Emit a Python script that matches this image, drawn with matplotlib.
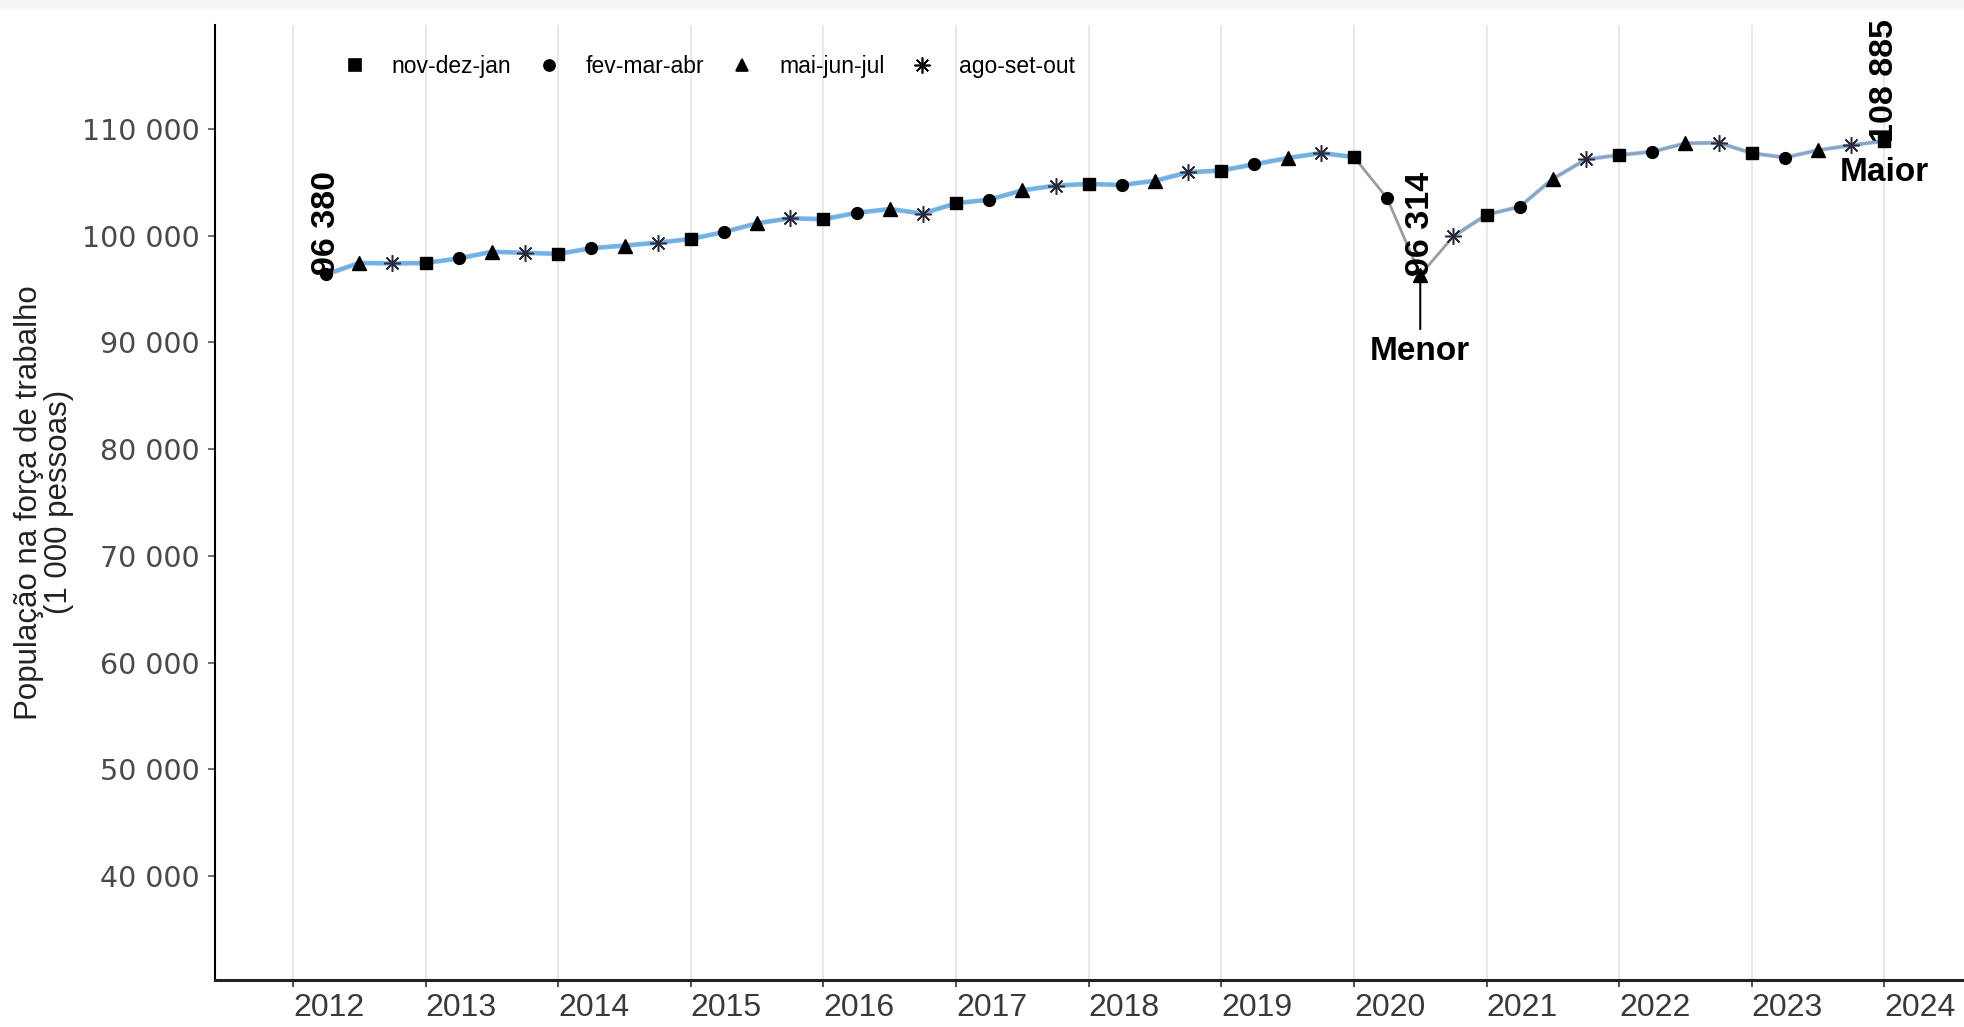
import matplotlib.pyplot as plt
from matplotlib.patches import Rectangle
from matplotlib.lines import Line2D
import numpy as np

# Trimestres moveis selecionados - Brasil (1 000 pessoas)
anos = [2012, 2012, 2012,
        2013, 2013, 2013, 2013,
        2014, 2014, 2014, 2014,
        2015, 2015, 2015, 2015,
        2016, 2016, 2016, 2016,
        2017, 2017, 2017, 2017,
        2018, 2018, 2018, 2018,
        2019, 2019, 2019, 2019,
        2020, 2020, 2020, 2020,
        2021, 2021, 2021, 2021,
        2022, 2022, 2022, 2022,
        2023, 2023, 2023, 2023,
        2024]
trimestres = ['fev-mar-abr', 'mai-jun-jul', 'ago-set-out'] + \
             ['nov-dez-jan', 'fev-mar-abr', 'mai-jun-jul', 'ago-set-out'] * 11 + \
             ['nov-dez-jan']
forca_trabalho = [96380, 97450, 97400,
                  97450, 97870, 98500, 98400,
                  98300, 98830, 99080, 99350,
                  99700, 100350, 101170, 101640,
                  101550, 102150, 102500, 102080,
                  103050, 103380, 104260, 104700,
                  104850, 104760, 105150, 105950,
                  106110, 106700, 107280, 107750,
                  107380, 103520, 96314, 99950,
                  101970, 102720, 105340, 107160,
                  107560, 107880, 108660, 108720,
                  107740, 107330, 108020, 108480,
                  108885]

ordem_legenda = ['nov-dez-jan', 'fev-mar-abr', 'mai-jun-jul', 'ago-set-out']
mes_final = {'nov-dez-jan': 0.0, 'fev-mar-abr': 0.25, 'mai-jun-jul': 0.5, 'ago-set-out': 0.75}
marcadores = {'nov-dez-jan': 's', 'fev-mar-abr': 'o', 'mai-jun-jul': '^', 'ago-set-out': (8, 2, 0)}
tam_marcador = {'nov-dez-jan': 8.5, 'fev-mar-abr': 8.5, 'mai-jun-jul': 9.5, 'ago-set-out': 12}

x = np.array([a + mes_final[t] for a, t in zip(anos, trimestres)])
y = np.array(forca_trabalho)

fig = plt.figure(figsize=(19.64, 10.27), dpi=100)
fig.patches.append(Rectangle((0, 1 - 8 / 1027), 1, 8 / 1027, transform=fig.transFigure,
                             color='#f5f5f5', zorder=0))
ax = fig.add_axes([215 / 1964, 47 / 1027, 1749 / 1964, 955 / 1027])

# grade vertical nos anos
for ano in range(2012, 2025):
    ax.axvline(ano, color='#e6e6e6', lw=1.3, zorder=0)

# linha cinza ligando todos os pontos e linha azul fora da queda de 2020
ax.plot(x, y, color='#9c9c9c', lw=2, zorder=2)
pre = x <= 2020.0
pos = x >= 2020.75
ax.plot(x[pre], y[pre], color='#6fb3ea', lw=3.4, alpha=0.9, zorder=3)
ax.plot(x[pos], y[pos], color='#7fa9dc', lw=3, alpha=0.65, zorder=3)

for t in ordem_legenda:
    m = np.array([tt == t for tt in trimestres])
    if t == 'ago-set-out':
        ax.plot(x[m], y[m], ls='none', marker=marcadores[t], ms=tam_marcador[t],
                mec='#2a2a3a', mew=1.1, zorder=4)
    else:
        ax.plot(x[m], y[m], ls='none', marker=marcadores[t], ms=tam_marcador[t],
                color='black', zorder=4)

handles = []
for t in ordem_legenda:
    handles.append(Line2D([], [], ls='none', marker=marcadores[t], color='black',
                          ms=tam_marcador[t] - 0.5, mew=1.2, label=t))
ax.legend(handles=handles, loc='center left', bbox_to_anchor=(0.067, 0.957), ncol=4,
          frameon=False, borderpad=0, handlelength=1.0, handletextpad=1.1,
          columnspacing=1.15, prop={'family': 'Liberation Sans', 'size': 16.5})


def fmt(v):
    return f"{v:,}".replace(',', ' ')


# rotulos: inicio, menor e maior
i_min = int(np.argmin(y))
i_max = int(np.argmax(y))
rotulos = [0, i_min, i_max]
for i in rotulos:
    ax.text(x[i], y[i] - 100, fmt(y[i]), rotation=90, ha='center', va='bottom',
            fontsize=24.5, fontweight='bold', family='Liberation Sans', zorder=5)

ax.annotate('Menor', xy=(x[i_min], y[i_min]), xytext=(x[i_min], 89150),
            ha='center', va='center', fontsize=24, fontweight='bold',
            family='Liberation Sans',
            arrowprops=dict(arrowstyle='-', color='black', lw=1.5, shrinkA=3, shrinkB=0))
ax.text(x[i_max], 105900, 'Maior', ha='center', va='center', fontsize=24,
        fontweight='bold', family='Liberation Sans', zorder=5)

ax.set_xlim(2011.412, 2024.60)
ax.set_ylim(30250, 119750)

ax.set_xticks(range(2012, 2025))
ax.set_xticklabels([str(a) for a in range(2012, 2025)], ha='left',
                   family='Liberation Sans', fontsize=23, color='#3a3a3a')
ax.set_yticks(range(40000, 110001, 10000))
ax.set_yticklabels([fmt(v) for v in range(40000, 110001, 10000)],
                   family='DejaVu Sans', fontsize=20.5, color='#4a4a4a')
ax.tick_params(axis='x', length=5, width=1.2, color='#333333', pad=4)
ax.tick_params(axis='y', length=5, width=1.2, color='#555555', pad=6)

for s in ['top', 'right']:
    ax.spines[s].set_visible(False)
ax.spines['left'].set_linewidth(1.5)
ax.spines['bottom'].set_linewidth(2.2)
ax.spines['bottom'].set_color('#222222')

fig.text(44 / 1964, 0.511, 'População na força de trabalho\n(1 000 pessoas)', rotation=90,
         ha='center', va='center', multialignment='center', fontsize=22.5,
         family='Liberation Sans', color='#222222', linespacing=1.0)

fig.savefig('out.png', dpi=100)
